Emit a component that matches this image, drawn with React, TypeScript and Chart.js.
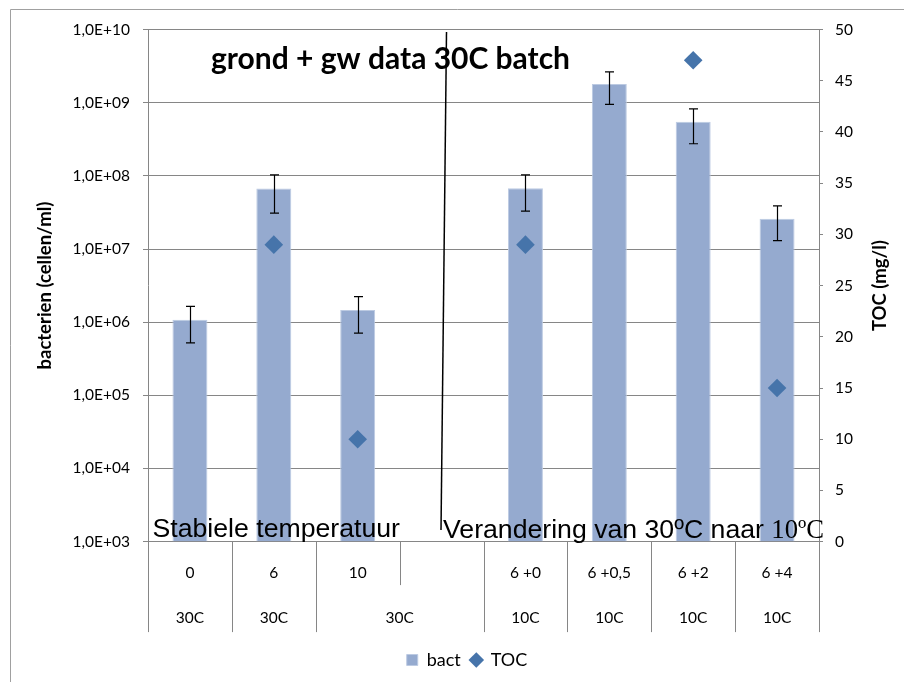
import { useEffect, useRef } from 'react';
import { Chart, registerables } from 'chart.js';

Chart.register(...registerables);

// Sample labels (first axis row) and the temperature groups underneath
const categories = ['0', '6', '10', '', '6 +0', '6 +0,5', '6 +2', '6 +4'];
const groupLabels = ['30C', '30C', '30C', '10C', '10C', '10C', '10C'];
const groupSizes = [1, 1, 2, 1, 1, 1, 1];

// Bacteria counts (cells/ml) with their error margins, and TOC (mg/l)
const bact = [1.08e6, 6.7e7, 1.47e6, null, 6.8e7, 1.8e9, 5.5e8, 2.6e7];
const bactErr = [5.6e5, 3.6e7, 7.6e5, null, 3.5e7, 8.5e8, 2.75e8, 1.3e7];
const toc = [null, 29, 10, null, 29, null, 47, 15];

// Axis ticks
const bactTicks = [1e3, 1e4, 1e5, 1e6, 1e7, 1e8, 1e9, 1e10];
const tocMin = 0;
const tocMax = 50;
const tocStep = 5;

const BAR = '#95aacf';
const BAR_EDGE = '#bccae2';
const DIAMOND = '#4674aa';
const GRID = '#868686';
const FRAME = '#a0a0a0';
const FONT = 'Lato';

const PLOT_TOP = 29.6;
const PLOT_BOTTOM = 541.6;
const PLOT_LEFT = 148;
const PLOT_RIGHT = 819;
const PAD_L = 30;
const PAD_B = 3;

const sciLabel = (v: number) => {
  const e = Math.round(Math.log10(v));
  return '1,0E+' + String(e).padStart(2, '0');
};

const decorations = {
  id: 'decorations',
  afterDatasetDraw(chart: any, args: any) {
    if (args.index !== 0) return;
    // error bars on the bact columns
    const ys = chart.scales.y;
    const meta = chart.getDatasetMeta(0);
    const ctx = chart.ctx;
    ctx.save();
    ctx.strokeStyle = '#000';
    ctx.lineWidth = 1.2;
    bact.forEach((v, i) => {
      const e = bactErr[i];
      if (v == null || e == null) return;
      const el = meta.data[i];
      const x = Math.round(el.x) + 0.5;
      const yTop = ys.getPixelForValue(v + e);
      const yBot = ys.getPixelForValue(v - e);
      ctx.beginPath();
      ctx.moveTo(x, yTop);
      ctx.lineTo(x, yBot);
      ctx.moveTo(x - 4.5, yTop);
      ctx.lineTo(x + 4.5, yTop);
      ctx.moveTo(x - 4.5, yBot);
      ctx.lineTo(x + 4.5, yBot);
      ctx.stroke();
    });
    ctx.restore();
  },
  afterDraw(chart: any) {
    const ctx = chart.ctx;
    const { top, bottom } = chart.chartArea;
    const xs = chart.scales.x;

    ctx.save();
    // category separators below the axis
    ctx.strokeStyle = GRID;
    ctx.lineWidth = 1;
    for (let b = 0; b <= categories.length; b++) {
      const px = Math.round(xs.getPixelForValue(b - 0.5)) + 0.5;
      const len = b === 3 ? 43.5 : 90.5;
      ctx.beginPath();
      ctx.moveTo(px, bottom);
      ctx.lineTo(px, bottom + len);
      ctx.stroke();
    }

    // second label row: temperature groups
    ctx.fillStyle = '#000';
    ctx.font = `15.5px ${FONT}`;
    ctx.textAlign = 'center';
    ctx.textBaseline = 'middle';
    let start = 0;
    groupLabels.forEach((g, i) => {
      const size = groupSizes[i];
      const cx = xs.getPixelForValue(start + (size - 1) / 2);
      ctx.fillText(g, cx, bottom + 76);
      start += size;
    });

    // right axis title, reading upwards
    ctx.save();
    ctx.translate(880, (top + bottom) / 2);
    ctx.rotate(-Math.PI / 2);
    ctx.font = `bold 18.5px ${FONT}`;
    ctx.fillText('TOC (mg/l)', 0, 0);
    ctx.restore();

    // chart title inside the plot
    ctx.font = `bold 30px ${FONT}`;
    ctx.textAlign = 'center';
    ctx.textBaseline = 'alphabetic';
    ctx.fillText('grond + gw data 30C batch', 390.5, 68.5);

    // phase divider
    ctx.strokeStyle = '#000';
    ctx.lineWidth = 1.5;
    ctx.beginPath();
    ctx.moveTo(446.5, top + 2.5);
    ctx.lineTo(441, bottom - 11.5);
    ctx.stroke();

    // phase captions
    ctx.textAlign = 'left';
    ctx.font = '26.67px "Liberation Sans"';
    ctx.fillText('Stabiele temperatuur', 152.5, 536.5);
    const part1 = 'Verandering van 30ºC naar ';
    ctx.fillText(part1, 443, 538);
    const w1 = ctx.measureText(part1).width;
    ctx.font = '26.67px "Liberation Serif"';
    ctx.fillText('10ºC', 443 + w1, 538);

    // outer frame
    ctx.strokeStyle = FRAME;
    ctx.lineWidth = 1;
    ctx.beginPath();
    ctx.moveTo(10.5, 682);
    ctx.lineTo(10.5, 9.5);
    ctx.lineTo(904, 9.5);
    ctx.stroke();
    ctx.restore();
  },
};

export default function App() {
  const ref = useRef<HTMLCanvasElement>(null);

  useEffect(() => {
    const canvas = ref.current;
    if (!canvas) return;
    const tickFont = { family: FONT, size: 15.5 };
    const chart = new Chart(canvas, {
      type: 'bar',
      data: {
        labels: categories,
        datasets: [
          {
            type: 'bar',
            label: 'bact',
            data: bact as any,
            yAxisID: 'y',
            backgroundColor: BAR,
            borderColor: BAR_EDGE,
            borderWidth: 1,
            barPercentage: 0.417,
            categoryPercentage: 1,
            order: 2,
            pointStyle: 'rect',
          } as any,
          {
            type: 'line',
            label: 'TOC',
            data: toc as any,
            yAxisID: 'y2',
            showLine: false,
            pointStyle: 'rectRot',
            pointRadius: 9.3,
            pointHoverRadius: 9.3,
            backgroundColor: DIAMOND,
            borderColor: DIAMOND,
            borderWidth: 0,
            pointBorderWidth: 0,
            order: 1,
          } as any,
        ],
      },
      options: {
        responsive: false,
        animation: false,
        events: [],
        layout: { padding: { left: PAD_L, right: 0, top: PLOT_TOP, bottom: PAD_B } },
        plugins: {
          tooltip: { enabled: false },
          legend: {
            position: 'bottom',
            labels: {
              usePointStyle: true,
              boxWidth: 11,
              boxHeight: 11,
              padding: 10,
              color: '#000',
              font: { family: FONT, size: 18 },
              sort: (a: any, b: any) => a.datasetIndex - b.datasetIndex,
            },
          },
        },
        scales: {
          x: {
            grid: { display: false, drawTicks: false },
            border: { display: true, color: GRID, width: 1 },
            ticks: { autoSkip: false, maxRotation: 0, padding: 22, font: tickFont, color: '#000' },
            afterFit: (s: any) => {
              const lh = s.chart.legend ? s.chart.legend.height : 0;
              s.height = s.chart.height - PLOT_BOTTOM - lh - PAD_B;
            },
          },
          y: {
            type: 'logarithmic',
            position: 'left',
            min: bactTicks[0],
            max: bactTicks[bactTicks.length - 1],
            afterBuildTicks: (s: any) => {
              s.ticks = bactTicks.map((v) => ({ value: v }));
            },
            ticks: { callback: (v: any) => sciLabel(Number(v)), padding: 13, font: tickFont, color: '#000' },
            grid: { color: GRID, lineWidth: 1, tickLength: 5, drawTicks: true },
            border: { color: GRID },
            title: {
              display: true,
              text: 'bacterien (cellen/ml)',
              color: '#000',
              font: { family: FONT, size: 18.5, weight: 'bold' },
              padding: { top: 34 - PAD_L, bottom: 0 },
            },
            afterFit: (s: any) => {
              s.width = PLOT_LEFT - PAD_L;
            },
          },
          y2: {
            type: 'linear',
            position: 'right',
            min: tocMin,
            max: tocMax,
            ticks: { stepSize: tocStep, padding: 12, font: tickFont, color: '#000' },
            grid: { drawOnChartArea: false, color: GRID, tickLength: 4 },
            border: { color: GRID },
            afterFit: (s: any) => {
              s.width = 904 - PLOT_RIGHT;
            },
          },
        },
      } as any,
      plugins: [decorations],
    });
    return () => chart.destroy();
  }, []);

  return (
    <div style={{ position: 'absolute', left: 0, top: 0, width: 904, height: 682, background: '#fff' }}>
      <canvas ref={ref} width={904} height={682} style={{ display: 'block', width: 904, height: 682 }} />
    </div>
  );
}
